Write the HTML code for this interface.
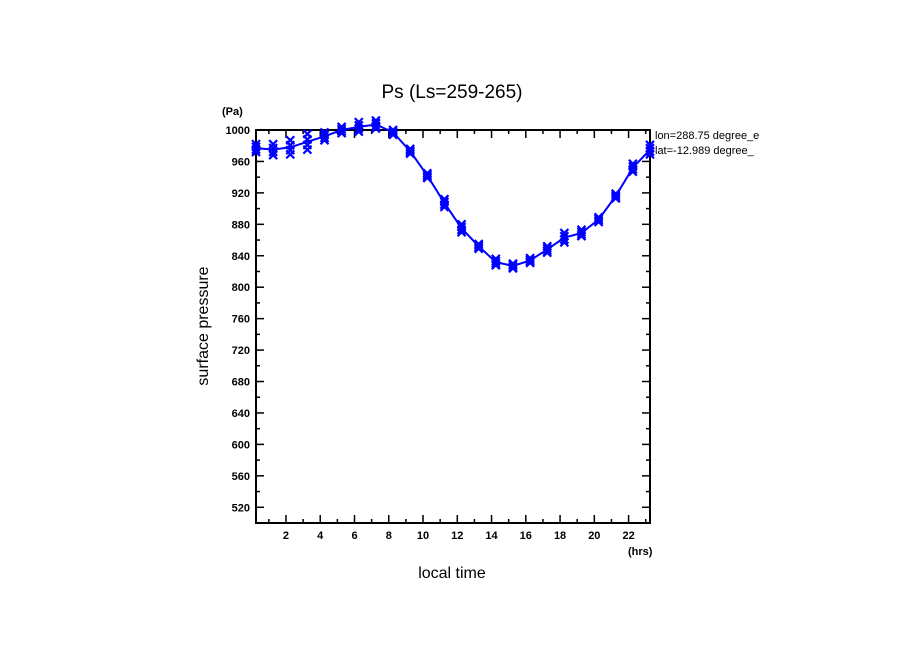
<!DOCTYPE html>
<html><head><meta charset="utf-8"><style>
html,body{margin:0;padding:0;background:#fff;}
svg{display:block;font-family:"Liberation Sans",sans-serif;}
</style></head><body>
<svg id="c" width="904" height="654">
<text x="452" y="98" font-size="19" text-anchor="middle">Ps (Ls=259-265)</text>
<text x="222" y="115" font-size="11" font-weight="bold">(Pa)</text>
<text x="628" y="555" font-size="11" font-weight="bold">(hrs)</text>
<text x="452" y="578" font-size="16" text-anchor="middle">local time</text>
<text transform="translate(208,326) rotate(-90)" font-size="16" text-anchor="middle">surface pressure</text>
<text x="655" y="139" font-size="11">lon=288.75 degree_e</text>
<text x="655" y="154" font-size="11">lat=-12.989 degree_</text>
<rect x="780" y="128" width="40" height="30" fill="#fff"/>
<g id="axes"></g>
<g id="series"></g>
</svg>
<script>
const hours=[0.25,1.25,2.25,3.25,4.25,5.25,6.25,7.25,8.25,9.25,10.25,11.25,12.25,13.25,14.25,15.25,16.25,17.25,18.25,19.25,20.25,21.25,22.25,23.25];
const pressure=[977,975,978,985,992,1000,1004,1007,997,973,942,907,875,852,832,827,834,848,863,869,886,916,952,975];
const spread=[5,7,9,10,5,4,6,5,3,3,3,5,5,3,4,3,3,4,6,4,3,3,5,6];
const xTicks=[2,4,6,8,10,12,14,16,18,20,22];
const yTicks=[520,560,600,640,680,720,760,800,840,880,920,960,1000];
const L=256,R=650,T=130,B=523,xMin=0.25,xMax=23.25,yMin=500,yMax=1000;
const sx=v=>L+(v-xMin)/(xMax-xMin)*(R-L);
const sy=v=>B-(v-yMin)/(yMax-yMin)*(B-T);
const NS="http://www.w3.org/2000/svg";
function mk(p,t,a){const e=document.createElementNS(NS,t);for(const k in a)e.setAttribute(k,a[k]);p.appendChild(e);return e;}
const ax=document.getElementById('axes');
const frame=mk(ax,'rect',{x:L,y:T,width:R-L,height:B-T,fill:'none',stroke:'#000','stroke-width':2});


for(let h=1;h<=23;h++){const big=h%2==0;const x=sx(h);const len=big?8:4;
mk(ax,'line',{x1:x,x2:x,y1:B,y2:B-len,stroke:'#000','stroke-width':1.5});
mk(ax,'line',{x1:x,x2:x,y1:T,y2:T+len,stroke:'#000','stroke-width':1.5});}
xTicks.forEach(v=>{const t=mk(ax,'text',{x:sx(v),y:B+16,'font-size':11,'font-weight':'bold','text-anchor':'middle'});t.textContent=v;

});
for(let v=520;v<=1000;v+=20){const big=v%40==0;const y=sy(v);const len=big?8:4;
mk(ax,'line',{x1:L,x2:L+len,y1:y,y2:y,stroke:'#000','stroke-width':1.5});
mk(ax,'line',{x1:R,x2:R-len,y1:y,y2:y,stroke:'#000','stroke-width':1.5});}
yTicks.forEach(v=>{const t=mk(ax,'text',{x:L-6,y:sy(v)+4,'font-size':11,'font-weight':'bold','text-anchor':'end'});t.textContent=v;

});
const s=document.getElementById('series');
const line=mk(s,'polyline',{points:hours.map((h,i)=>sx(h)+','+sy(pressure[i])).join(' '),fill:'none',stroke:'#0000ff','stroke-width':2});


hours.forEach((h,i)=>{[-1,-0.4,0.3,1].forEach(f=>{const x=sx(h),y=sy(pressure[i]+f*spread[i]),d=4;
const g=mk(s,'path',{d:`M${x-d},${y-d}L${x+d},${y+d}M${x+d},${y-d}L${x-d},${y+d}`,stroke:'#0000ff','stroke-width':2.2});

});});
</script>
</body></html>
